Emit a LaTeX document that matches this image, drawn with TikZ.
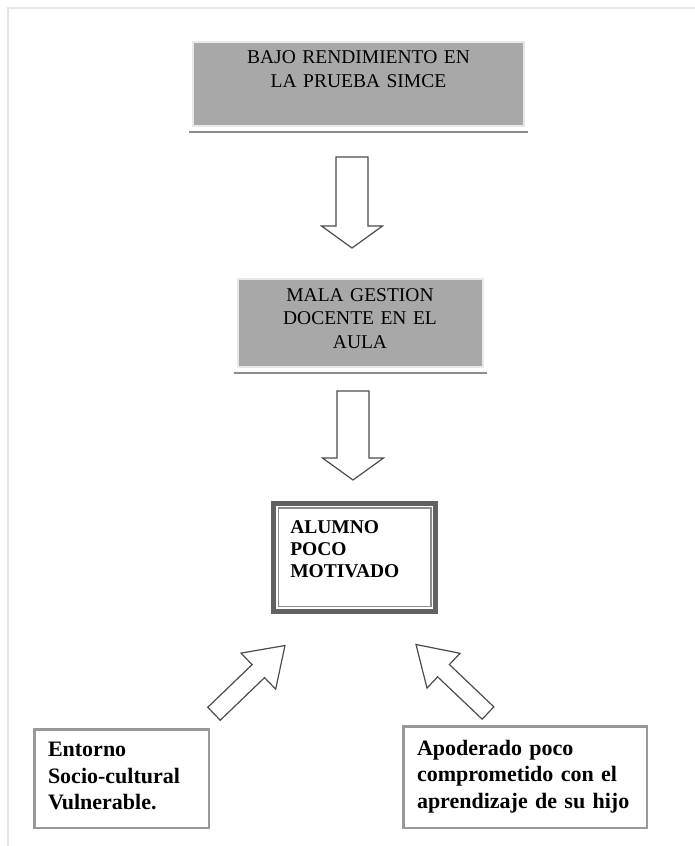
\documentclass[tikz,border=0pt]{standalone}
\usepackage{fontspec}
\setmainfont{Liberation Serif}
\usetikzlibrary{positioning, calc}
\tikzset{
    grisbox/.style={rectangle, draw=black!9, line width=2pt, fill=black!34, inner sep=0pt, align=center, font=\fontsize{19.5}{23.5}\selectfont},
    marco/.style={rectangle, draw=black!62, line width=4.5pt, fill=white, inner ysep=0pt, inner xsep=16.75pt, align=left, font=\fontsize{19.5}{22}\selectfont\bfseries},
    causa/.style={rectangle, draw=black!40, line width=2.5pt, fill=white, inner ysep=0pt, inner xsep=13.75pt, align=left, font=\fontsize{22}{26.5}\selectfont\bfseries},
    fatarrow/.style={draw=black!70, line width=1.2pt, fill=white},
}
% tail, tip, half shaft width, half head width, head length
\newcommand{\fatarrow}[5]{%
    \coordinate (#1b) at ($(#2)!#5!(#1)$);
    \draw[fatarrow] ($(#1)!#3!90:(#2)$) -- ($(#1b)!#3!90:(#2)$) -- ($(#1b)!#4!90:(#2)$)
        -- (#2) -- ($(#1b)!#4!-90:(#2)$) -- ($(#1b)!#3!-90:(#2)$) -- ($(#1)!#3!-90:(#2)$) -- cycle;}

\begin{document}
\begin{tikzpicture}[x=1pt, y=-1pt]
    \useasboundingbox (0,0) rectangle (695,846);
    \draw[black!10, line width=2pt] (8,846) -- (8,8) -- (695,8);

    \node [grisbox, text width=331pt, minimum height=84pt] (bajo) at (358.5,84) {BAJO RENDIMIENTO EN\\LA PRUEBA SIMCE\rule[-30pt]{0pt}{0pt}};
    \node [grisbox, text width=245pt, minimum height=88pt] (mala) [below=151pt of bajo, xshift=1.5pt] {MALA GESTION\\DOCENTE EN EL\\AULA\rule[-9pt]{0pt}{0pt}};
    \node [marco, text width=128.5pt, minimum height=108pt] (alumno) [below=133pt of mala, xshift=-5.5pt] {ALUMNO\\POCO\\MOTIVADO\rule[-17pt]{0pt}{0pt}};
    \node [causa, text width=147pt, minimum height=98.5pt] (entorno) at (121.5,778.5) {Entorno\\Socio-cultural\\Vulnerable.\rule[-5pt]{0pt}{0pt}};
    \node [causa, text width=216pt, minimum height=101.5pt] (apoderado) at (525,777) {Apoderado poco\\comprometido con el\\aprendizaje de su hijo\rule[-6pt]{0pt}{0pt}};

    % shadow lines and inner frame
    \draw[black!45, line width=1.5pt] ([xshift=-3pt, yshift=-5pt]bajo.south west) -- ([xshift=3pt, yshift=-5pt]bajo.south east);
    \draw[black!45, line width=1.5pt] ([xshift=-3pt, yshift=-5pt]mala.south west) -- ([xshift=3pt, yshift=-5pt]mala.south east);
    \draw[black!45, line width=1.5pt] ([xshift=7pt, yshift=-7pt]alumno.north west) rectangle ([xshift=-7pt, yshift=7pt]alumno.south east);

    \coordinate (a1t) at ($(bajo.south)+(-6.5,30)$);
    \coordinate (a1p) at ($(mala.north)+(-8,-30)$);
    \coordinate (a2t) at ($(mala.south)+(-7,23)$);
    \coordinate (a2p) at ($(alumno.north)+(-1.5,-21)$);
    \coordinate (a3t) at ($(entorno.north)+(92.5,-14.25)$);
    \coordinate (a3p) at ($(alumno.south)+(-69.5,32)$);
    \coordinate (a4t) at ($(apoderado.north)+(-37,-12)$);
    \coordinate (a4p) at ($(alumno.south)+(61.5,31)$);

    \fatarrow{a1t}{a1p}{16pt}{30.5pt}{22pt}
    \fatarrow{a2t}{a2p}{16pt}{30.5pt}{22pt}
    \fatarrow{a3t}{a3p}{9pt}{25pt}{37pt}
    \fatarrow{a4t}{a4p}{8.5pt}{24pt}{38pt}
\end{tikzpicture}
\end{document}
